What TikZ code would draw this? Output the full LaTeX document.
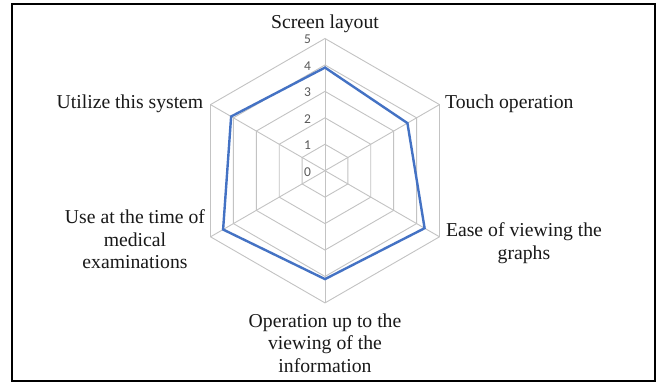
\documentclass[tikz,border=0pt]{standalone}
\usepackage{fontspec}
\setmainfont{Liberation Serif}
\newfontfamily\tickfont{Carlito}
\usetikzlibrary{calc}
\definecolor{gridgray}{RGB}{195,195,195}
\definecolor{seriesblue}{RGB}{68,114,196}
\definecolor{ticktext}{RGB}{89,89,89}
\begin{document}
\begin{tikzpicture}[x=1pt,y=-1pt,
  axislabel/.style={inner sep=0pt,font=\fontsize{19.7}{22.8}\selectfont,align=center,text=black!90},
  ticklabel/.style={inner sep=0pt,font=\tickfont\fontsize{13.5}{15}\selectfont,text=ticktext},
  gridline/.style={draw=gridgray,line width=0.9pt},
  series/.style={draw=seriesblue,line width=2.4pt,line join=miter}]
\useasboundingbox (0,0) rectangle (657,383);
\fill[white] (0,0) rectangle (657,383);
\draw[line width=1.8pt] (11.8,4.3) rectangle (654.8,381.2);
\coordinate (C) at (325,170.7);
\def\R{132.2}
% grid hexagons
\foreach \k in {1,...,5}{
  \draw[gridline] ($(C)+(-90:\k*\R/5)$) \foreach \i in {1,...,5}{ -- ($(C)+(-90+60*\i:\k*\R/5)$) } -- cycle;
}
% spokes
\foreach \i in {0,...,5}{
  \coordinate (V\i) at ($(C)+(-90+60*\i:\R)$);
  \draw[gridline] (C) -- (V\i);
}
% tick labels
\foreach \k in {0,...,5}{
  \node[ticklabel] (t\k) at (307.5,{170.7-\k*\R/5+1}) {\k};
}
% data series
\coordinate (D0) at ($(C)+(-90:3.9*\R/5)$);
\coordinate (D1) at ($(C)+(-30:3.6*\R/5)$);
\coordinate (D2) at ($(C)+(30:4.35*\R/5)$);
\coordinate (D3) at ($(C)+(90:4.1*\R/5)$);
\coordinate (D4) at ($(C)+(150:4.45*\R/5)$);
\coordinate (D5) at ($(C)+(210:4.1*\R/5)$);
\draw[series] (D0) -- (D1) -- (D2) -- (D3) -- (D4) -- (D5) -- cycle;
% axis labels
\node[axislabel,anchor=base] (L0) at (325,28.3) {Screen layout};
\node[axislabel,anchor=base west] (L1) at (445,108.3) {Touch operation};
\node[axislabel,anchor=north] (L2) at (524,222.5) {Ease of viewing the\\graphs};
\node[axislabel,anchor=north] (L3) at (325,313.2) {Operation up to the\\viewing of the\\information};
\node[axislabel,anchor=north] (L4) at (135,209.2) {Use at the time of\\medical\\examinations};
\node[axislabel,anchor=base east] (L5) at (203.5,108.5) {Utilize this system};
\end{tikzpicture}
\end{document}
